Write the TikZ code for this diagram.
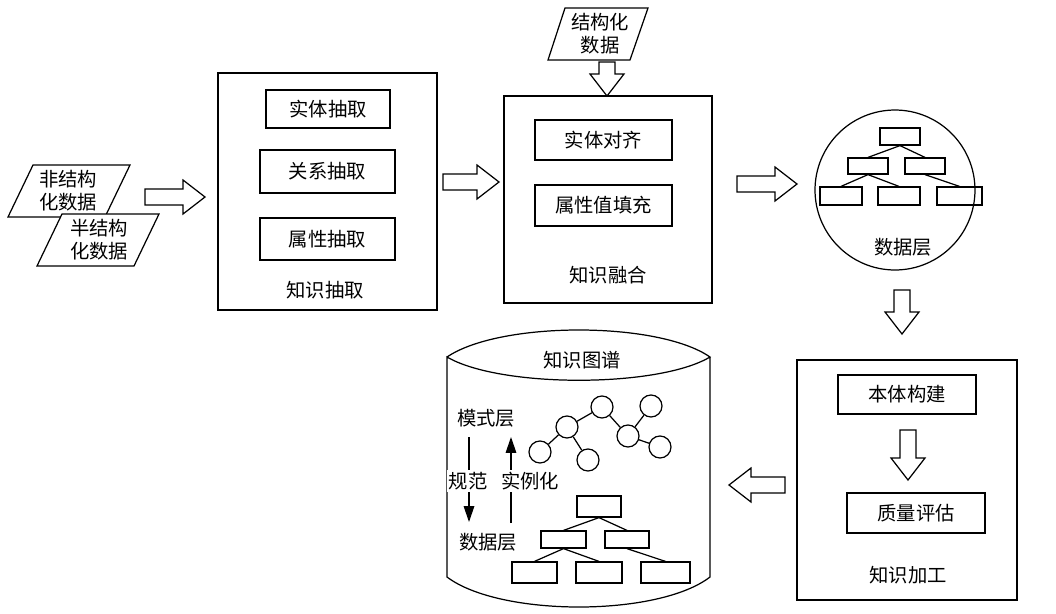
\documentclass[tikz,border=0pt]{standalone}
\usepackage{fontspec}
\setmainfont{Noto Sans CJK SC}
\usetikzlibrary{arrows.meta}
\begin{document}
\begin{tikzpicture}[x=0.02cm,y=-0.02cm,line width=0.7pt,
	every node/.style={font=\fontsize{11}{13}\selectfont},
	box/.style={draw,rectangle,inner sep=0pt},
	label/.style={align=center,inner sep=0pt},
	ball/.style={draw,circle,minimum size=0.44cm,inner sep=0pt},
	leaf/.style={draw,rectangle,minimum width=0.86cm,minimum height=0.36cm,inner sep=0pt},
	pics/blkarrow/.style={code={\draw[fill=white] (-#1,-8)--(#1-22,-8)--(#1-22,-17)--(#1,0)--(#1-22,17)--(#1-22,8)--(-#1,8)--cycle;}}]
\useasboundingbox (0,0) rectangle (1056,613);
% inputs
\draw[fill=white,shift={(68,191)}] (-35,-26)--(62,-26)--(37,26)--(-60,26)--cycle;
\node (ustr) [label] at (68,191) {非结构\\化数据};
\draw[fill=white,shift={(97,240)}] (-35,-26)--(62,-26)--(37,26)--(-60,26)--cycle;
\node (sstr) [label] at (99,240) {半结构\\化数据};
\draw[fill=white,shift={(598,34)}] (-33,-26)--(50,-26)--(32,26)--(-50,26)--cycle;
\node (str)  [label] at (600,34) {结构化\\数据};
% knowledge extraction
\node (ext) [box,minimum width=4.38cm,minimum height=4.74cm] at (327.5,191.5) {};
\node (ent)  [box,minimum width=2.48cm,minimum height=0.76cm] at (328,109) {实体抽取};
\node (rel)  [box,minimum width=2.7cm,minimum height=0.86cm] at (327.5,171.5) {关系抽取};
\node (attr) [box,minimum width=2.7cm,minimum height=0.84cm] at (327.5,239) {属性抽取};
\node (extl) at (325,290) {知识抽取};
% knowledge fusion
\node (fus) [box,minimum width=4.16cm,minimum height=4.14cm] at (608,199.5) {};
\node (ali)  [box,minimum width=2.74cm,minimum height=0.8cm] at (603.5,140) {实体对齐};
\node (fill) [box,minimum width=2.74cm,minimum height=0.82cm] at (603.5,205.5) {属性值填充};
\node (fusl) at (608,275) {知识融合};
% data layer
\node (dl) [draw,circle,minimum size=3.2cm,inner sep=0pt] at (895,190) {};
\node (d0) [leaf,minimum width=0.8cm,minimum height=0.34cm] at (900,136.5) {};
\node (d1) [leaf,minimum width=0.8cm,minimum height=0.32cm] at (868,166) {};
\node (d2) [leaf,minimum width=0.8cm,minimum height=0.32cm] at (925,166) {};
\node (d3) [leaf,minimum width=0.84cm,minimum height=0.36cm] at (841,196) {};
\node (d4) [leaf,minimum width=0.84cm,minimum height=0.36cm] at (899,196) {};
\node (d5) [leaf,minimum width=0.9cm,minimum height=0.36cm] at (959.5,196) {};
\draw (d0.south) -- (d1.north) (d0.south) -- (d2.north) (d1.south) -- (d3.north)
	(d1.south) -- (d4.north) (d2.south) -- (d5.north);
\node (dll) at (903,247) {数据层};
% knowledge processing
\node (proc) [box,minimum width=4.4cm,minimum height=4.8cm] at (907,480) {};
\node (ont) [box,minimum width=2.76cm,minimum height=0.78cm] at (907,394.5) {本体构建};
\node (qual) [box,minimum width=2.76cm,minimum height=0.8cm] at (916,513) {质量评估};
\node (procl) at (908,575) {知识加工};
% knowledge graph cylinder
\draw (447,357) .. controls (500,321) and (658,321) .. (710,357)
	.. controls (658,388) and (500,388) .. (447,357) -- (447,577)
	.. controls (500,617) and (658,617) .. (710,577) -- (710,357);
\node (kg) at (582,360) {知识图谱};
\node (c1) [ball] at (602,407) {};
\node (c2) [ball] at (567,427) {};
\node (c3) [ball] at (540,452) {};
\node (c4) [ball] at (588,460) {};
\node (c5) [ball] at (628,436) {};
\node (c6) [ball] at (651,406) {};
\node (c7) [ball] at (660,447) {};
\draw (c3) -- (c2) -- (c1) -- (c5) -- (c6) (c2) -- (c4) (c5) -- (c7);
\node (t0) [leaf,minimum width=0.88cm,minimum height=0.42cm] at (599,506.5) {};
\node (t1) [leaf,minimum width=0.9cm,minimum height=0.34cm] at (563.5,539.5) {};
\node (t2) [leaf,minimum width=0.88cm,minimum height=0.34cm] at (627,539.5) {};
\node (t3) [leaf,minimum width=0.9cm,minimum height=0.42cm] at (534.5,572.5) {};
\node (t4) [leaf,minimum width=0.92cm,minimum height=0.42cm] at (599,572.5) {};
\node (t5) [leaf,minimum width=0.98cm,minimum height=0.42cm] at (665.5,572.5) {};
\draw (t0.south) -- (t1.north) (t0.south) -- (t2.north) (t1.south) -- (t3.north)
	(t1.south) -- (t4.north) (t2.south) -- (t5.north);
\node (ml) at (486,418) {模式层};
\node (nl) at (488,542) {数据层};
\coordinate (gt) at (469,437);
\coordinate (gb) at (469,522);
\coordinate (st) at (511,437);
\coordinate (sb) at (511,523);
\draw[-{Triangle[length=9pt,width=6pt]}] (gt) -- (gb);
\draw[-{Triangle[length=9pt,width=6pt]}] (sb) -- (st);
\node (gf) [fill=white,inner sep=1pt] at (468,481) {规范};
\node (sl) [fill=white,inner sep=1pt] at (530,481) {实例化};
% block arrows
\pic at (175,197) {blkarrow=30};
\pic at (471,182) {blkarrow=28};
\pic at (767,184) {blkarrow=30};
\pic[rotate=-90] at (607,79) {blkarrow=17};
\pic[rotate=-90] at (902,312) {blkarrow=22};
\pic[rotate=-90] at (908,455) {blkarrow=25};
\pic[rotate=180] at (757,485) {blkarrow=28};
\end{tikzpicture}
\end{document}
